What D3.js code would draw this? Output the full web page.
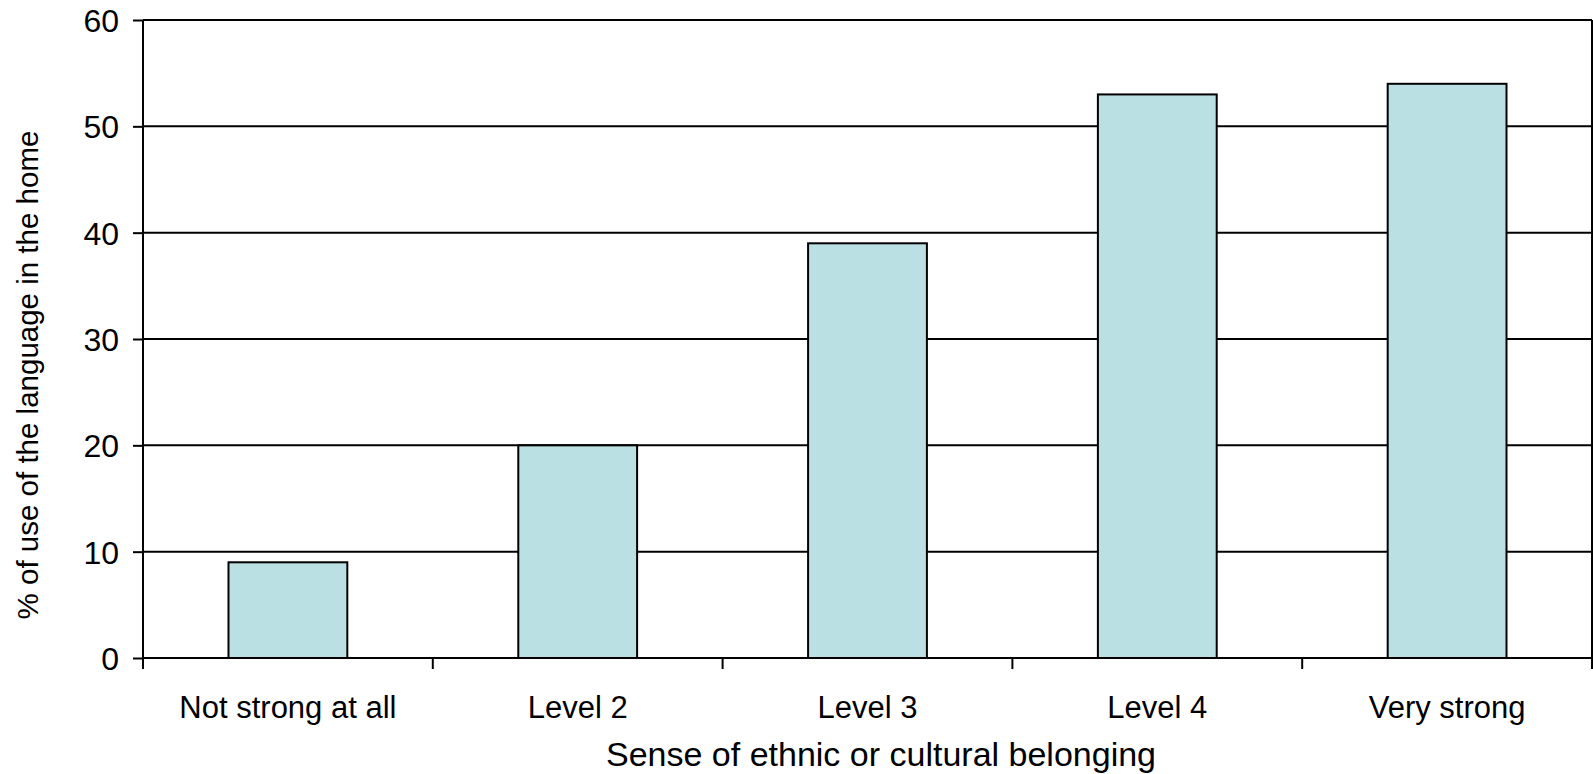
<!DOCTYPE html>
<html>
<head>
<meta charset="utf-8">
<script src="https://cdn.jsdelivr.net/npm/d3@7"></script>
<style>
  html, body { margin: 0; padding: 0; background: #fff; }
  svg { display: block; }
  text { font-family: "Liberation Sans", Arial, sans-serif; fill: #000; }
</style>
</head>
<body>
<svg id="chart" width="1593" height="774"></svg>
<script>
// Share of homes using the language, by strength of ethnic or cultural belonging
const categories = ["Not strong at all", "Level 2", "Level 3", "Level 4", "Very strong"];
const values = [9, 20, 39, 53, 54];
const yTicks = [0, 10, 20, 30, 40, 50, 60];
const xTitle = "Sense of ethnic or cultural belonging";
const yTitle = "% of use of the language in the home";

const svg = d3.select("#chart");
const plot = { left: 143, right: 1592, top: 20, bottom: 658 };

const x = d3.scaleBand()
  .domain(categories)
  .range([plot.left, plot.right])
  .paddingInner(0.59)
  .paddingOuter(0.295);

const xOuter = d3.scaleBand()
  .domain(categories)
  .range([plot.left, plot.right]);

const y = d3.scaleLinear()
  .domain([0, 60])
  .range([plot.bottom, plot.top]);

// horizontal gridlines
svg.append("g")
  .selectAll("line")
  .data(yTicks)
  .join("line")
  .attr("x1", plot.left)
  .attr("x2", plot.right)
  .attr("y1", d => y(d))
  .attr("y2", d => y(d))
  .attr("stroke", "#000")
  .attr("stroke-width", 2);

// right edge of the plot area
svg.append("line")
  .attr("x1", plot.right).attr("x2", plot.right)
  .attr("y1", plot.top).attr("y2", plot.bottom)
  .attr("stroke", "#000").attr("stroke-width", 2);

// bars
svg.append("g")
  .selectAll("rect")
  .data(values)
  .join("rect")
  .attr("x", (d, i) => x(categories[i]))
  .attr("width", x.bandwidth())
  .attr("y", d => y(d))
  .attr("height", d => y(0) - y(d))
  .attr("fill", "#BBE0E3")
  .attr("stroke", "#000")
  .attr("stroke-width", 2);

// y axis
const yAxis = svg.append("g")
  .attr("transform", `translate(${plot.left},0)`)
  .call(d3.axisLeft(y).tickValues(yTicks).tickSize(10).tickPadding(14).tickSizeOuter(0));
yAxis.select(".domain").attr("stroke", "#000").attr("stroke-width", 2)
  .attr("d", `M0,${plot.top}V${plot.bottom + 11}`);
yAxis.selectAll(".tick line").attr("stroke", "#000").attr("stroke-width", 2);
yAxis.selectAll(".tick text")
  .style("font-family", '"Liberation Sans", Arial, sans-serif')
  .style("font-size", "32px")
  .attr("dy", "0.36em");

// x axis: category boundaries as ticks
const boundaries = categories.map(c => xOuter(c) + xOuter.bandwidth());
svg.append("g")
  .selectAll("line")
  .data(boundaries)
  .join("line")
  .attr("x1", d => d).attr("x2", d => d)
  .attr("y1", plot.bottom).attr("y2", plot.bottom + 11)
  .attr("stroke", "#000").attr("stroke-width", 2);

svg.append("g")
  .selectAll("text")
  .data(categories)
  .join("text")
  .attr("x", d => xOuter(d) + xOuter.bandwidth() / 2)
  .attr("y", 718)
  .attr("text-anchor", "middle")
  .style("font-size", "31px")
  .text(d => d);

// axis titles
svg.append("text")
  .attr("x", 881)
  .attr("y", 766)
  .attr("text-anchor", "middle")
  .style("font-size", "34px")
  .text(xTitle);

svg.append("text")
  .attr("transform", `translate(38,${(plot.top + plot.bottom) / 2 + 36}) rotate(-90)`)
  .attr("text-anchor", "middle")
  .style("font-size", "29.5px")
  .text(yTitle);
</script>
</body>
</html>
